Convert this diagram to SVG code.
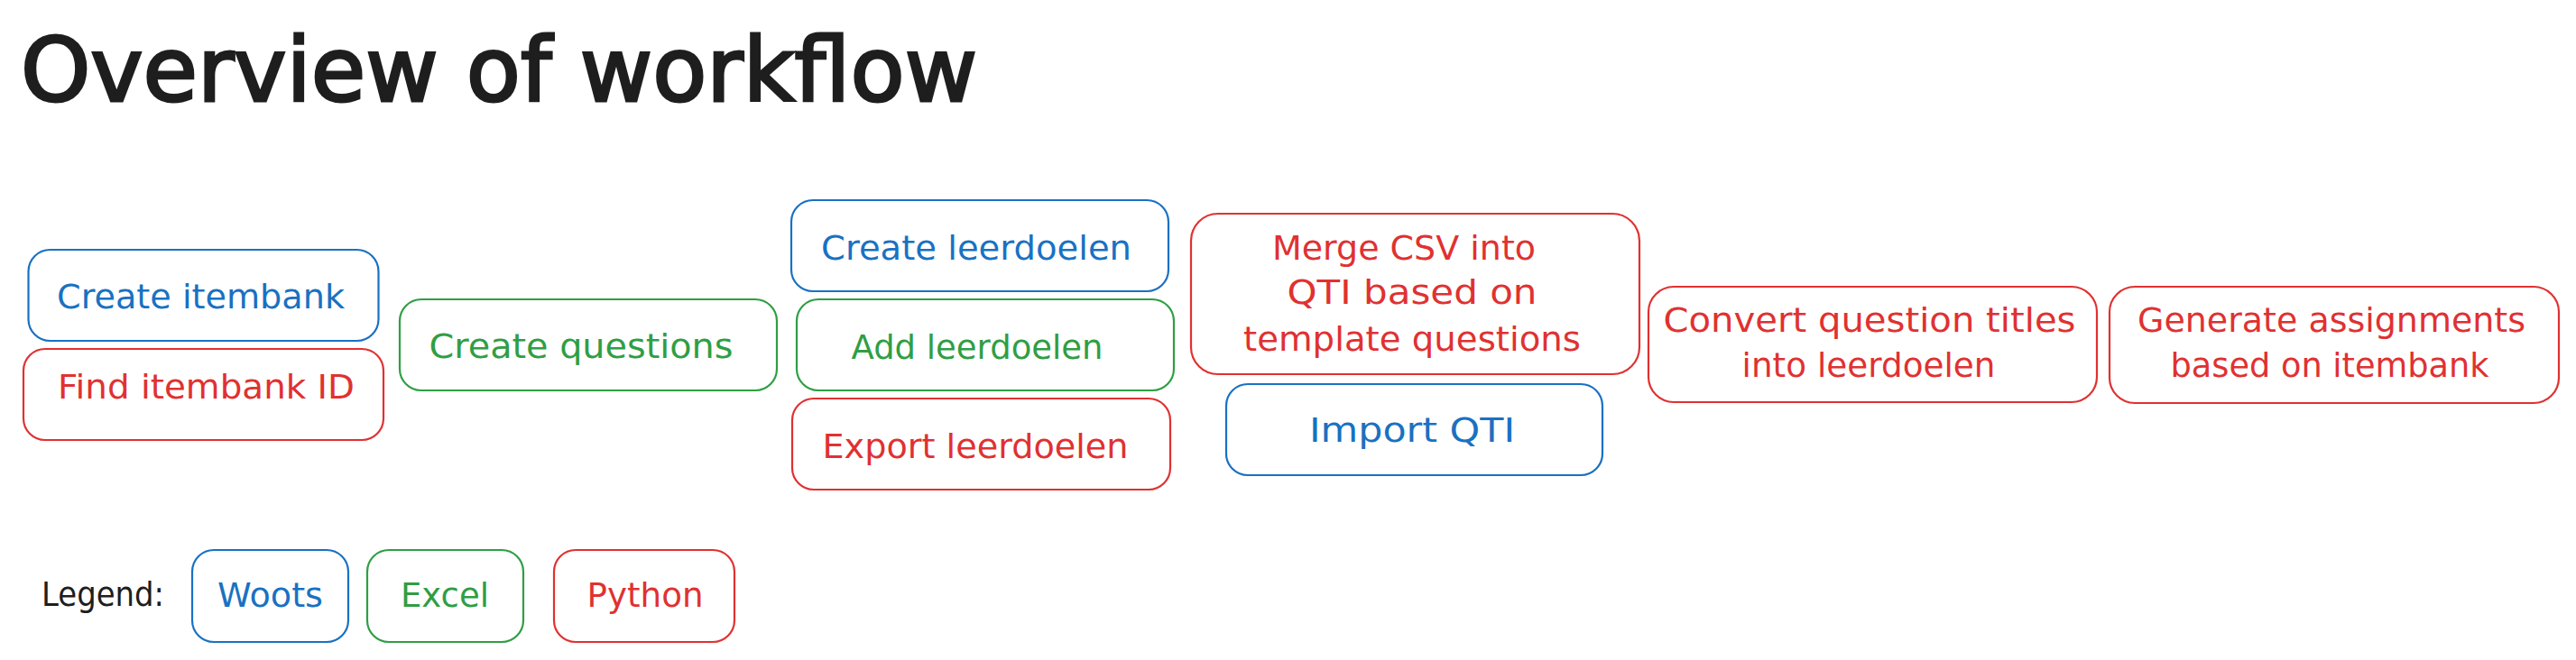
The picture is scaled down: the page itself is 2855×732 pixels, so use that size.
<svg xmlns="http://www.w3.org/2000/svg" width="2855" height="732" viewBox="0 0 2855 732">
<style>
  .bg { fill: #ffffff; }
  .box { fill: none; stroke-width: 2.2; }
  .blue { stroke: #1971c2; }
  .green { stroke: #2f9e44; }
  .red { stroke: #e03131; }
  .t { font-family: "DejaVu Sans", "Liberation Sans", sans-serif; font-size: 38px; text-anchor: middle; }
  .tb { fill: #1971c2; }
  .tg { fill: #2f9e44; }
  .tr { fill: #e03131; }
  .title { font-family: "DejaVu Sans", "Liberation Sans", sans-serif; font-size: 98px; fill: #1e1e1e; stroke: #1e1e1e; stroke-width: 3; }
  .legend { font-family: "DejaVu Sans", "Liberation Sans", sans-serif; font-size: 38px; fill: #1e1e1e; }
</style>
<rect class="bg" x="0" y="0" width="2855" height="732"/>
<text class="title" x="23" y="112" textLength="1060" lengthAdjust="spacingAndGlyphs">Overview of workflow</text>

<g id="create-itembank">
  <rect class="box blue" x="31.5" y="277" width="388" height="101" rx="24"/>
  <text class="t tb" x="222.5" y="342" textLength="319" lengthAdjust="spacingAndGlyphs">Create itembank</text>
</g>
<g id="find-itembank-id">
  <rect class="box red" x="26" y="387" width="399" height="101" rx="24"/>
  <text class="t tr" x="228.5" y="442" textLength="329" lengthAdjust="spacingAndGlyphs">Find itembank ID</text>
</g>
<g id="create-questions">
  <rect class="box green" x="443" y="332" width="418" height="101" rx="24"/>
  <text class="t tg" x="644" y="397" textLength="337" lengthAdjust="spacingAndGlyphs">Create questions</text>
</g>
<g id="create-leerdoelen">
  <rect class="box blue" x="877" y="222" width="418" height="101" rx="24"/>
  <text class="t tb" x="1082" y="288" textLength="344" lengthAdjust="spacingAndGlyphs">Create leerdoelen</text>
</g>
<g id="add-leerdoelen">
  <rect class="box green" x="883" y="332" width="418" height="101" rx="24"/>
  <text class="t tg" x="1083" y="398" textLength="279" lengthAdjust="spacingAndGlyphs">Add leerdoelen</text>
</g>
<g id="export-leerdoelen">
  <rect class="box red" x="878" y="442" width="419" height="101" rx="24"/>
  <text class="t tr" x="1081" y="508" textLength="339" lengthAdjust="spacingAndGlyphs">Export leerdoelen</text>
</g>
<g id="merge-csv">
  <rect class="box red" x="1320" y="237" width="497" height="178" rx="30"/>
  <text class="t tr" x="1556" y="288" textLength="292" lengthAdjust="spacingAndGlyphs">Merge CSV into</text>
  <text class="t tr" x="1565" y="337" textLength="277" lengthAdjust="spacingAndGlyphs">QTI based on</text>
  <text class="t tr" x="1565" y="389" textLength="374" lengthAdjust="spacingAndGlyphs">template questions</text>
</g>
<g id="import-qti">
  <rect class="box blue" x="1359" y="426" width="417" height="101" rx="24"/>
  <text class="t tb" x="1565" y="490" textLength="228" lengthAdjust="spacingAndGlyphs">Import QTI</text>
</g>
<g id="convert-titles">
  <rect class="box red" x="1827" y="318" width="497" height="128" rx="28"/>
  <text class="t tr" x="2072" y="368" textLength="457" lengthAdjust="spacingAndGlyphs">Convert question titles</text>
  <text class="t tr" x="2071" y="418" textLength="281" lengthAdjust="spacingAndGlyphs">into leerdoelen</text>
</g>
<g id="generate-assignments">
  <rect class="box red" x="2338" y="318" width="498" height="129" rx="28"/>
  <text class="t tr" x="2584" y="368" textLength="430" lengthAdjust="spacingAndGlyphs">Generate assignments</text>
  <text class="t tr" x="2582" y="418" textLength="353" lengthAdjust="spacingAndGlyphs">based on itembank</text>
</g>

<g id="legend">
  <text class="legend" x="46" y="672" textLength="136" lengthAdjust="spacingAndGlyphs">Legend:</text>
</g>
<g id="legend-woots">
  <rect class="box blue" x="213" y="610" width="173" height="102" rx="24"/>
  <text class="t tb" x="299.5" y="673" textLength="117" lengthAdjust="spacingAndGlyphs">Woots</text>
</g>
<g id="legend-excel">
  <rect class="box green" x="407" y="610" width="173" height="102" rx="24"/>
  <text class="t tg" x="493" y="673" textLength="98" lengthAdjust="spacingAndGlyphs">Excel</text>
</g>
<g id="legend-python">
  <rect class="box red" x="614" y="610" width="200" height="102" rx="24"/>
  <text class="t tr" x="715" y="673" textLength="129" lengthAdjust="spacingAndGlyphs">Python</text>
</g>
<g id="connectors"></g>
</svg>
